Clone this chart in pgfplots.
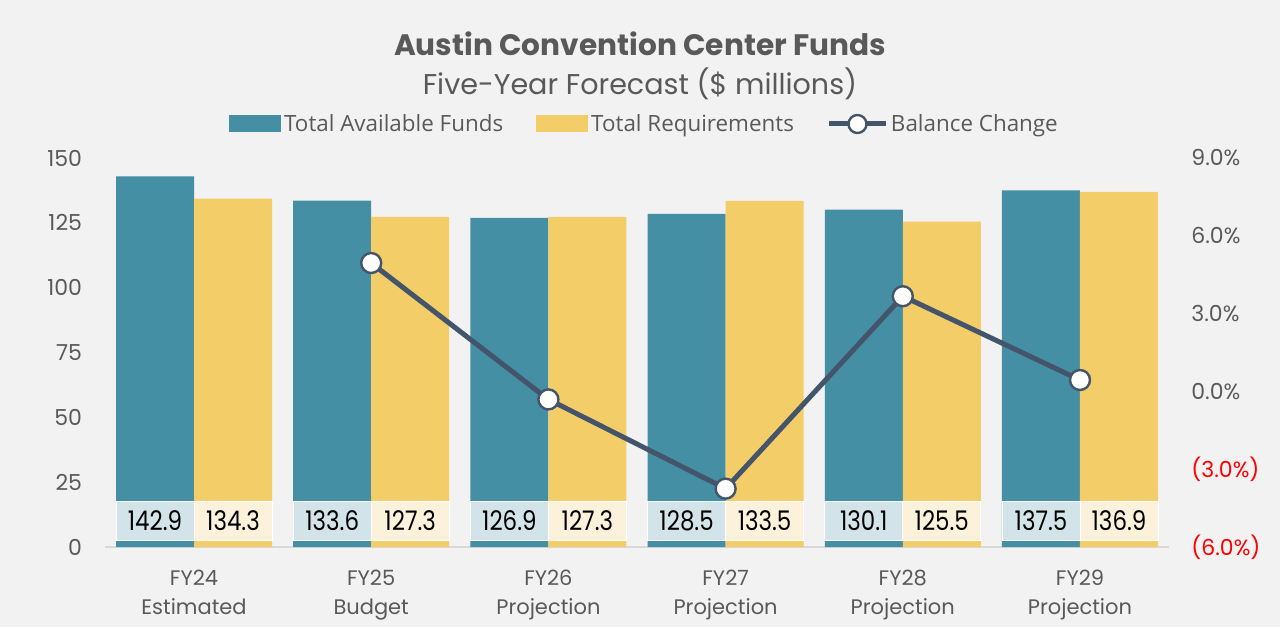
\documentclass[border=0pt]{standalone}
\usepackage{pgfplots}
\pgfplotsset{compat=1.18}
\usepackage{fontspec}
\setmainfont{Poppins}
\newfontfamily\legfont{Open Sans}

\definecolor{bgc}{HTML}{F2F2F2}
\definecolor{txtc}{HTML}{595959}
\definecolor{tealc}{HTML}{458FA4}
\definecolor{yelc}{HTML}{F3CD68}
\definecolor{tealL}{HTML}{D2E4E9}
\definecolor{yelL}{HTML}{FCF2DC}
\definecolor{linec}{HTML}{44546A}
\definecolor{basec}{HTML}{D9D9D9}

% label boxes near the foot of each bar
\pgfplotsset{
  boxlabel/.style n args={2}{
    nodes near coords={\scalebox{0.85}[1]{\pgfmathprintnumber[fixed,fixed zerofill,precision=1,assume math mode=true]{\pgfplotspointmeta}}},
    point meta=y,
    scatter/position=absolute,
    every node near coord/.style={
      at={(axis cs:\pgfkeysvalueof{/data point/x},10.2)},
      xshift=#1, anchor=center, fill=#2, draw=white, line width=0.4pt,
      minimum width=39pt, minimum height=19.5pt, inner sep=0pt,
      text=black, font=\fontsize{13.5}{14}\selectfont},
  },
}

\begin{document}
\begin{tikzpicture}[x=1pt,y=1pt]
\fill[bgc] (0,0) rectangle (640,313.5);
\node[font=\bfseries\fontsize{14.8}{17}\selectfont, text=txtc] at (320,291.5) {Austin Convention Center Funds};
\node[font=\fontsize{14.3}{16}\selectfont, text=txtc] at (320,271.5) {Five-Year Forecast (\$ millions)};

\begin{axis}[
  at={(52.7pt,40pt)}, anchor=south west,
  scale only axis, width=531.6pt, height=194.5pt,
  xmin=-0.5, xmax=5.5, ymin=0, ymax=150,
  /pgf/number format/assume math mode=true,
  axis x line*=bottom, axis y line*=left,
  x axis line style={draw=basec, line width=1pt, -},
  y axis line style={draw=none},
  major tick length=0pt,
  xtick={0,...,5},
  xticklabels={{FY24\\Estimated},{FY25\\Budget},{FY26\\Projection},{FY27\\Projection},{FY28\\Projection},{FY29\\Projection}},
  xticklabel style={align=center, text=txtc, font=\fontsize{10.5}{14.5}\selectfont, yshift=-8pt},
  ytick={0,25,...,150},
  yticklabel style={text=txtc, font=\fontsize{11}{13}\selectfont, inner sep=0pt, xshift=-11.5pt, anchor=east},
  legend style={at={(axis description cs:0.5075,1.0874)}, anchor=center, draw=none, fill=none,
    legend columns=-1, font=\legfont\fontsize{11.2}{13}\selectfont, text=txtc,
    /tikz/every even column/.append style={column sep=15pt},
    inner sep=0pt, nodes={inner sep=1.5pt}},
  legend image code/.code={\fill[#1] (0pt,-4.25pt) rectangle (26pt,4.25pt);},
]
\addplot[ybar, bar width=39pt, bar shift=-19.5pt, fill=tealc, draw=none,
  boxlabel={-19.5pt}{tealL}]
  coordinates {(0,142.9) (1,133.6) (2,126.9) (3,128.5) (4,130.1) (5,137.5)};
\addlegendentry{Total Available Funds}
\addplot[ybar, bar width=39pt, bar shift=19.5pt, fill=yelc, draw=none,
  boxlabel={19.5pt}{yelL}]
  coordinates {(0,134.3) (1,127.3) (2,127.3) (3,133.5) (4,125.5) (5,136.9)};
\addlegendentry{Total Requirements}
\addlegendimage{legend image code/.code={
    \draw[linec, line width=2.5pt] (0pt,0pt) -- (28pt,0pt);
    \draw[linec, fill=white, line width=1.2pt] (14pt,0pt) circle (4.5pt);}}
\addlegendentry{Balance Change}
\end{axis}

\begin{axis}[
  at={(52.7pt,40pt)}, anchor=south west,
  scale only axis, width=531.6pt, height=194.5pt,
  xmin=-0.5, xmax=5.5, ymin=-6, ymax=9,
  axis x line=none, axis y line*=right,
  y axis line style={draw=none},
  major tick length=0pt,
  ytick={-6,-3,0,3,6,9},
  yticklabels={{\color{red}(6.0\%)},{\color{red}(3.0\%)},0.0\%,3.0\%,6.0\%,9.0\%},
  yticklabel style={text=txtc, font=\fontsize{11}{13}\selectfont, inner sep=0pt, xshift=11.2pt, anchor=west},
]
\addplot[color=linec, line width=2.5pt, mark=*, mark size=5pt,
  mark options={fill=white, draw=linec, line width=1.2pt}]
  coordinates {(1,4.95) (2,-0.31) (3,-3.75) (4,3.67) (5,0.44)};
\end{axis}
\end{tikzpicture}
\end{document}
